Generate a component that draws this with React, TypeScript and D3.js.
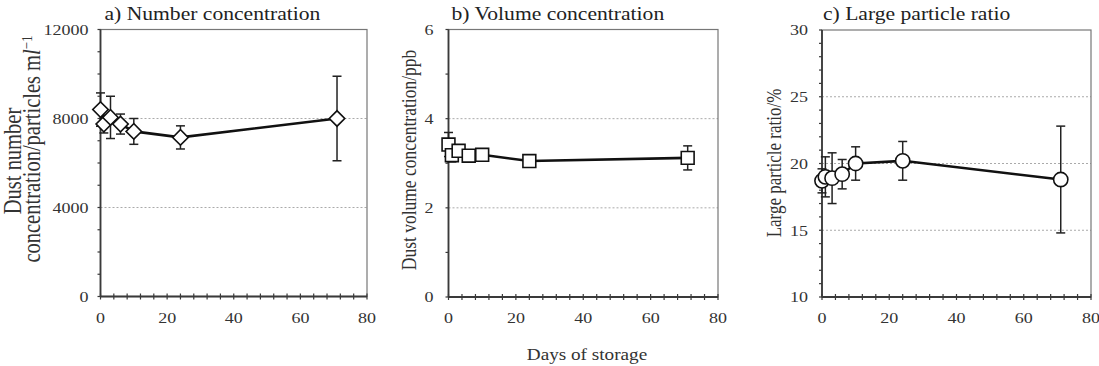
import React from 'react'
import * as d3 from 'd3'

// storage days and measured values (mean, +/- error)
const days = [0, 1, 3, 6, 10, 24, 71]
const numberConc = [8400, 7750, 8050, 7750, 7420, 7150, 8000]
const numberErr = [750, 400, 950, 450, 580, 520, 1900]
const volumeConc = [3.42, 3.18, 3.28, 3.17, 3.19, 3.05, 3.12]
const volumeErr = [0.27, 0.15, 0.12, 0.08, 0.08, 0.07, 0.27]
const largeRatio = [18.7, 19.0, 18.9, 19.2, 20.0, 20.2, 18.8]
const largeErr = [0.9, 1.5, 1.9, 1.1, 1.25, 1.45, 4.0]

const xTicks = [0, 20, 40, 60, 80]
const numberTicks = [0, 4000, 8000, 12000]
const volumeTicks = [0, 2, 4, 6]
const ratioTicks = [10, 15, 20, 25, 30]

const W = 1099
const H = 366
const SX = 1.2 // the source figure is stretched horizontally
const FONT = '"Liberation Serif", "Times New Roman", serif'
const AXIS = '#3a3a3a'
const TEXT = '#333'

type Marker = 'diamond' | 'square' | 'circle'

interface PanelProps {
  left: number
  right: number
  top: number
  bottom: number
  title: string
  titleDx: number
  yDomain: [number, number]
  yTicks: number[]
  yMinor: number
  grid: number[]
  values: number[]
  errors: number[]
  marker: Marker
  labelGap: number
  yLabel: React.ReactNode
}

const markerPath = (m: Marker) => {
  if (m === 'diamond') return d3.symbol(d3.symbolSquare, 120)()
  if (m === 'square') return d3.symbol(d3.symbolSquare, 165)()
  return d3.symbol(d3.symbolCircle, 160)()
}

const Panel: React.FC<PanelProps> = (p) => {
  const x = d3.scaleLinear().domain([0, 80]).range([p.left, p.right])
  const y = d3.scaleLinear().domain(p.yDomain).range([p.bottom, p.top])
  const xMinor = d3.range(0, 80.01, 4)
  const yMinor = d3.range(p.yDomain[0], p.yDomain[1] + p.yMinor / 2, p.yMinor)
  const line = d3.line<number>().x((_, i) => x(days[i])).y((v) => y(v))
  const sym = markerPath(p.marker)
  const rot = p.marker === 'diamond' ? ' rotate(45)' : ''

  return (
    <g>
      {/* title */}
      <text
        transform={`translate(${p.left + p.titleDx},20) scale(${SX},1)`}
        fontSize={18}
        fill="#222"
      >
        {p.title}
      </text>

      {/* grid */}
      {p.grid.map((g) => (
        <line key={g} x1={p.left} x2={p.right} y1={y(g)} y2={y(g)}
          stroke="#aaa" strokeWidth={1} strokeDasharray="2,2" />
      ))}

      {/* frame */}
      <rect x={p.left} y={p.top} width={p.right - p.left} height={p.bottom - p.top}
        fill="none" stroke="#777" strokeWidth={1.2} />
      <line x1={p.left} x2={p.left} y1={p.top} y2={p.bottom} stroke={AXIS} strokeWidth={1.8} />
      <line x1={p.left} x2={p.right} y1={p.bottom} y2={p.bottom} stroke={AXIS} strokeWidth={1.8} />

      {/* x ticks */}
      {xMinor.map((t) => (
        <line key={t} x1={x(t)} x2={x(t)} y1={p.bottom - 3} y2={p.bottom + 3}
          stroke={AXIS} strokeWidth={1.2} />
      ))}
      {xTicks.map((t) => (
        <text key={t} transform={`translate(${x(t)},${p.bottom + 26}) scale(${SX},1)`}
          textAnchor="middle" fontSize={15} fill={TEXT}>
          {t}
        </text>
      ))}

      {/* y ticks */}
      {yMinor.map((t) => (
        <line key={t} x1={p.left - 3} x2={p.left} y1={y(t)} y2={y(t)}
          stroke={AXIS} strokeWidth={1.2} />
      ))}
      {p.yTicks.map((t) => (
        <text key={t} transform={`translate(${p.left - p.labelGap},${y(t)}) scale(${SX},1)`}
          textAnchor="end" dy="0.35em" fontSize={15} fill={TEXT}>
          {t}
        </text>
      ))}

      {p.yLabel}

      {/* error bars */}
      {p.values.map((v, i) => {
        const cx = x(days[i])
        const y0 = y(v - p.errors[i])
        const y1 = y(v + p.errors[i])
        return (
          <g key={i} stroke="#222" strokeWidth={1.5}>
            <line x1={cx} x2={cx} y1={y0} y2={y1} />
            <line x1={cx - 4.5} x2={cx + 4.5} y1={y0} y2={y0} />
            <line x1={cx - 4.5} x2={cx + 4.5} y1={y1} y2={y1} />
          </g>
        )
      })}

      <path d={line(p.values) || ''} fill="none" stroke="#111" strokeWidth={2.6} />

      {p.values.map((v, i) => (
        <path key={i} d={sym || ''} transform={`translate(${x(days[i])},${y(v)})${rot}`}
          fill="#fff" stroke="#111" strokeWidth={1.6} />
      ))}
    </g>
  )
}

const App: React.FC = () => {
  return (
    <div style={{ position: 'absolute', left: 0, top: 0 }}>
      <svg width={W} height={H} fontFamily={FONT} style={{ display: 'block', background: '#fff' }}>
        <Panel
          left={100.5} right={367} top={29.5} bottom={296.5}
          title="a) Number concentration" titleDx={4}
          yDomain={[0, 12000]} yTicks={numberTicks} yMinor={1000} grid={[4000, 8000]}
          values={numberConc} errors={numberErr} marker="diamond" labelGap={12}
          yLabel={
            <g fill={TEXT} fontSize={20.5}>
              <text transform={`translate(21,161) rotate(-90) scale(1,${SX})`} textAnchor="middle">
                Dust number
              </text>
              <text transform={`translate(40,149) rotate(-90) scale(1,${SX})`} textAnchor="middle">
                concentration/particles m<tspan fontStyle="italic">l</tspan>
                <tspan dy="-7" fontSize={13}>−1</tspan>
              </text>
            </g>
          }
        />
        <Panel
          left={448.5} right={718} top={29.5} bottom={297}
          title="b) Volume concentration" titleDx={3}
          yDomain={[0, 6]} yTicks={volumeTicks} yMinor={1} grid={[2, 4]}
          values={volumeConc} errors={volumeErr} marker="square" labelGap={15}
          yLabel={
            <text transform={`translate(416,160) rotate(-90) scale(1,${SX})`}
              textAnchor="middle" fontSize={17.5} fill={TEXT}>
              Dust volume concentration/ppb
            </text>
          }
        />
        <Panel
          left={822} right={1091} top={30} bottom={297}
          title="c) Large particle ratio" titleDx={1}
          yDomain={[10, 30]} yTicks={ratioTicks} yMinor={1} grid={[15, 20, 25]}
          values={largeRatio} errors={largeErr} marker="circle" labelGap={14}
          yLabel={
            <text transform={`translate(781,163) rotate(-90) scale(1,${SX})`}
              textAnchor="middle" fontSize={17} fill={TEXT}>
              Large particle ratio/%
            </text>
          }
        />
        <text transform={`translate(587,360) scale(${SX},1)`} textAnchor="middle"
          fontSize={16} fill={TEXT}>
          Days of storage
        </text>
      </svg>
    </div>
  )
}

export default App
